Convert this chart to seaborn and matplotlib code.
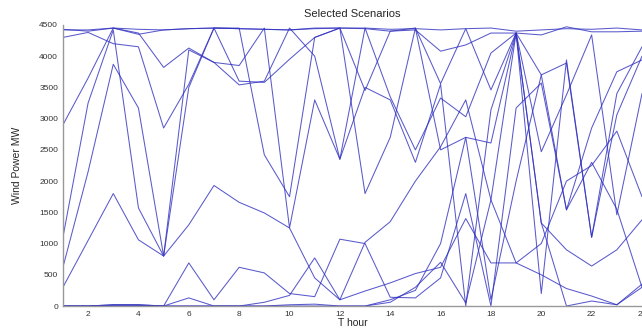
import numpy as np
import pandas as pd
import seaborn as sns
import matplotlib
matplotlib.use("Agg")
import matplotlib.pyplot as plt

hours = list(range(1, 25))

# Selected wind power scenarios (MW) for each hour of the day
s01 = [4420, 4420, 4450, 4430, 4420, 4440, 4450, 4440, 4430, 4420, 4440, 4450, 4450, 4430, 4440, 4420, 4440, 4450, 4400, 4420, 4440, 4430, 4450, 4420]
s02 = [4430, 4400, 4450, 4350, 4420, 4440, 4450, 4440, 4430, 4420, 4450, 4450, 4440, 4400, 4420, 4080, 4180, 4370, 4370, 4340, 4470, 4390, 4390, 4400]
s03 = [4300, 4380, 4200, 4150, 2850, 3550, 4450, 3600, 3580, 3950, 4300, 4450, 3450, 4400, 4450, 3560, 4440, 3460, 4370, 3700, 1540, 2850, 3750, 3940]
s04 = [2900, 3650, 4450, 4370, 3820, 4130, 3900, 3540, 3600, 4450, 4000, 2350, 4450, 3350, 2500, 3330, 3030, 4050, 4370, 200, 3940, 1100, 3060, 4000]
s05 = [1100, 3250, 4420, 1570, 800, 3500, 4450, 4450, 2420, 1750, 4300, 4450, 1800, 2700, 4450, 2500, 2700, 2610, 4370, 2470, 3380, 4340, 1460, 3400]
s06 = [620, 2150, 3870, 3170, 800, 4100, 3900, 3850, 4450, 1250, 3300, 2350, 3500, 3300, 2300, 3550, 0, 3140, 4370, 1330, 900, 640, 900, 1380]
s07 = [300, 1050, 1800, 1060, 800, 1300, 1930, 1660, 1490, 1250, 450, 100, 1020, 1350, 2000, 2550, 3300, 1700, 690, 1000, 2000, 2250, 2800, 1750]
s08 = [0, 0, 20, 20, 0, 130, 0, 0, 60, 170, 770, 100, 240, 370, 520, 620, 1400, 690, 690, 500, 280, 160, 20, 350]
s09 = [0, 0, 0, 0, 0, 690, 100, 620, 530, 200, 150, 1070, 1000, 140, 130, 450, 1800, 0, 3170, 3570, 1540, 2300, 1550, 300]
s10 = [0, 0, 20, 20, 0, 0, 0, 0, 0, 0, 0, 0, 0, 100, 250, 1000, 2700, 100, 2000, 3700, 3890, 1100, 3400, 4150]
s11 = [0, 0, 10, 10, 0, 0, 0, 0, 0, 20, 30, 0, 0, 60, 300, 700, 50, 1700, 4370, 1330, 0, 80, 20, 300]

scenarios = [s01, s02, s03, s04, s05, s06, s07, s08, s09, s10, s11]

df = pd.DataFrame(
    [(i, h, v) for i, s in enumerate(scenarios) for h, v in zip(hours, s)],
    columns=["scenario", "hour", "power"],
)

sns.set_style("white")
plt.rcParams["font.family"] = ["Liberation Sans", "DejaVu Sans"]

fig = plt.figure(figsize=(6.42, 3.28), dpi=100)
ax = fig.add_axes([0.098, 0.067, 0.902, 0.857])

sns.lineplot(data=df, x="hour", y="power", units="scenario", estimator=None,
             color="#3030c0", linewidth=0.75, alpha=0.8, ax=ax, legend=False)

ax.set_xlim(1, 24)
ax.set_ylim(0, 4500)
ax.set_xticks(range(2, 25, 2))
ax.set_yticks(range(0, 4501, 500))
ax.tick_params(direction="in", length=4, width=0.8, colors="#888888",
               labelcolor="#333333", labelsize=6)
for side in ("top", "right"):
    ax.spines[side].set_visible(False)
for side in ("left", "bottom"):
    ax.spines[side].set_color("#999999")
    ax.spines[side].set_linewidth(1.0)

ax.set_title("Selected Scenarios", fontsize=8, pad=6)
ax.set_xlabel("T hour", fontsize=7.5, labelpad=0)
ax.set_ylabel("Wind Power MW", fontsize=7.5, labelpad=12)

fig.savefig("out.png", dpi=100)
